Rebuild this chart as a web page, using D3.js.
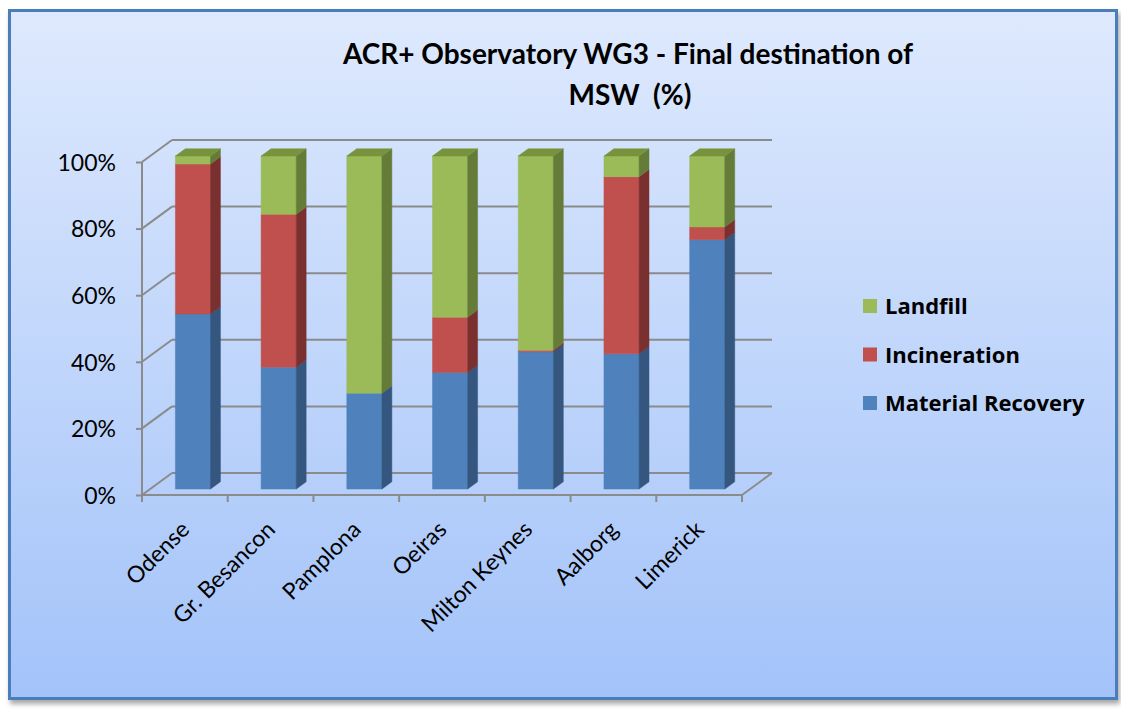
<!DOCTYPE html>
<html>
<head>
<meta charset="utf-8">
<script src="https://cdn.jsdelivr.net/npm/d3@7"></script>
<style>
  html, body { margin: 0; padding: 0; background: #ffffff; }
  svg { display: block; }
  text { font-family: Lato, "Liberation Sans", sans-serif; fill: #000; }
</style>
</head>
<body>
<svg id="chart" width="1121" height="709"></svg>
<script>
// Final destination of municipal solid waste, per city (share of total, %)
const categories = ["Odense", "Gr. Besancon", "Pamplona", "Oeiras", "Milton Keynes", "Aalborg", "Limerick"];
const materialRecovery = [52.6, 36.6, 28.8, 35.0, 41.2, 40.6, 74.9];
const incineration     = [45.0, 45.9,  0.0, 16.6,  0.5, 53.2,  3.8];
const landfill         = [ 2.4, 17.5, 71.2, 48.4, 58.3,  6.2, 21.3];
const seriesNames = ["Material Recovery", "Incineration", "Landfill"];
const yTickValues = [0, 20, 40, 60, 80, 100];
const yTickLabels = ["0%", "20%", "40%", "60%", "80%", "100%"];

const svg = d3.select("#chart");

// ---- frame with vertical gradient ----
const defs = svg.append("defs");
const grad = defs.append("linearGradient").attr("id", "bg").attr("x1", 0).attr("y1", 0).attr("x2", 0).attr("y2", 1);
grad.append("stop").attr("offset", "0%").attr("stop-color", "#dee9fd");
grad.append("stop").attr("offset", "100%").attr("stop-color", "#a3c3f9");
const shadow = defs.append("filter").attr("id", "shadow").attr("x", "-5%").attr("y", "-5%").attr("width", "110%").attr("height", "110%");
shadow.append("feDropShadow").attr("dx", 2).attr("dy", 4).attr("stdDeviation", 2.5).attr("flood-color", "#000").attr("flood-opacity", 0.35);

svg.append("rect")
  .attr("x", 9.5).attr("y", 10.5).attr("width", 1107).attr("height", 688)
  .attr("fill", "url(#bg)").attr("stroke", "#4a7ebb").attr("stroke-width", 3)
  .attr("filter", "url(#shadow)");

// ---- scales and 3D projection ----
const x = d3.scaleBand().domain(categories).range([142, 742]).padding(0);
const y = d3.scaleLinear().domain([0, 100]).range([495, 162]);
const DX = 30, DY = -22;            // offset of the back wall
const dFront = 0.27, dBack = 0.6;   // depth span of each bar
const barW = x.bandwidth() * 0.41;
const P = (px, v, d) => [px + d * DX, y(v) + d * DY];

const gridColor = "#8b8b8b";
const g = svg.append("g");
const line = (a, b) => g.append("line")
  .attr("x1", a[0]).attr("y1", a[1]).attr("x2", b[0]).attr("y2", b[1])
  .attr("stroke", gridColor).attr("stroke-width", 2);

const [x0, x1] = x.range();
// back-wall gridlines and side-wall diagonals
yTickValues.forEach(v => {
  line(P(x0, v, 1), P(x1, v, 1));
  line(P(x0, v, 0), P(x0, v, 1));
});
// floor edges
line(P(x0, 0, 0), P(x1, 0, 0));
line(P(x1, 0, 0), P(x1, 0, 1));

// value axis with outward ticks
const yAxis = d3.axisLeft(y).tickValues(yTickValues).tickSize(6).tickPadding(20)
  .tickFormat((d, i) => yTickLabels[i]);
const ya = svg.append("g").attr("transform", `translate(${x0},0)`).call(yAxis);
ya.select(".domain").attr("stroke", gridColor).attr("stroke-width", 2).attr("d", `M0,${y(100)}V${y(0)}`);
ya.selectAll(".tick line").attr("stroke", gridColor).attr("stroke-width", 2);
ya.selectAll(".tick text").style("font-family", "Lato, 'Liberation Sans', sans-serif")
  .style("font-size", "23px").attr("fill", "#1a1a1a").attr("dy", "0.36em");

// category ticks at band boundaries
categories.concat([null]).forEach(c => {
  const px = c === null ? x1 : x(c);
  line([px, y(0)], [px, y(0) + 7]);
});

// ---- stacked 3D bars ----
const stackData = categories.map((c, i) => ({
  cat: c, "Material Recovery": materialRecovery[i], "Incineration": incineration[i], "Landfill": landfill[i]
}));
const stacked = d3.stack().keys(seriesNames)(stackData);
const colors = {
  "Material Recovery": { front: "#4f81bd", side: "#34567f", top: "#5d8cc4" },
  "Incineration":      { front: "#c0504d", side: "#7a302e", top: "#b0413e" },
  "Landfill":          { front: "#9bbb59", side: "#657b38", top: "#77933c" }
};
const poly = pts => "M" + pts.map(p => p.join(",")).join("L") + "Z";
const barsG = svg.append("g");

categories.forEach((c, i) => {
  const left = x(c) + (x.bandwidth() - barW) / 2;
  const right = left + barW;
  const segs = stacked.map(s => ({ key: s.key, lo: s[i][0], hi: s[i][1] })).filter(s => s.hi - s.lo > 0);
  segs.forEach((s, j) => {
    const col = colors[s.key];
    // front face
    barsG.append("path").attr("d", poly([P(left, s.lo, dFront), P(right, s.lo, dFront), P(right, s.hi, dFront), P(left, s.hi, dFront)]))
      .attr("fill", col.front).attr("stroke", col.front).attr("stroke-width", 0.5);
    // right side face
    barsG.append("path").attr("d", poly([P(right, s.lo, dFront), P(right, s.lo, dBack), P(right, s.hi, dBack), P(right, s.hi, dFront)]))
      .attr("fill", col.side).attr("stroke", col.side).attr("stroke-width", 0.5);
    // top face on the highest segment
    if (j === segs.length - 1) {
      barsG.append("path").attr("d", poly([P(left, s.hi, dFront), P(right, s.hi, dFront), P(right, s.hi, dBack), P(left, s.hi, dBack)]))
        .attr("fill", col.top).attr("stroke", col.top).attr("stroke-width", 0.5);
    }
  });
});

// ---- category labels ----
svg.append("g").selectAll("text").data(categories).join("text")
  .attr("transform", d => `translate(${x(d) + x.bandwidth() / 2 + 6},${531}) rotate(-45)`)
  .attr("text-anchor", "end")
  .style("font-size", "23px")
  .attr("fill", "#1a1a1a")
  .text(d => d);

// ---- title ----
const title = svg.append("text").attr("text-anchor", "middle")
  .style("font-size", "28px").style("font-weight", "bold");
title.append("tspan").attr("x", 628).attr("y", 64).text("ACR+ Observatory WG3 - Final destination of");
title.append("tspan").attr("x", 630).attr("y", 105).attr("xml:space", "preserve").text("MSW  (%)");

// ---- legend ----
const legendItems = ["Landfill", "Incineration", "Material Recovery"];
const legend = svg.append("g").selectAll("g").data(legendItems).join("g")
  .attr("transform", (d, i) => `translate(863,${306 + i * 48.5})`);
legend.append("rect").attr("x", 0).attr("y", -7).attr("width", 14).attr("height", 14)
  .attr("fill", d => colors[d].front);
legend.append("text").attr("x", 22).attr("y", 8)
  .style("font-family", "'Open Sans', Lato, sans-serif")
  .style("font-size", "22px").style("font-weight", "bold").text(d => d);
</script>
</body>
</html>
